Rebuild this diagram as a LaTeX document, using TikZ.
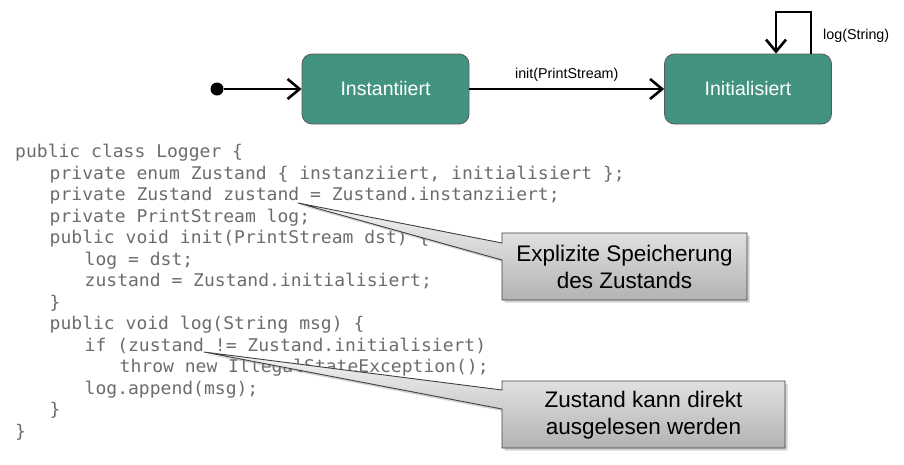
\documentclass[tikz,border=0pt]{standalone}
\usepackage{fontspec}
\setmainfont{Liberation Sans}
\newfontfamily\codefont[FakeStretch=1.03]{DejaVu Sans Mono}
\usetikzlibrary{arrows.meta,shadows,calc}
\definecolor{teal1}{RGB}{66,148,129}
\definecolor{codegray}{RGB}{108,108,108}
\tikzset{
  statebox/.style={draw=black!65, line width=0.8pt, fill=teal1, rounded corners=10pt,
    minimum width=167pt, minimum height=70pt, inner sep=0pt, text=white,
    font=\fontsize{19.5}{22}\selectfont},
  conn/.style={line width=2.6pt, -{Straight Barb[length=12pt,width=20pt]}},
  lbl/.style={font=\fontsize{14.3}{16}\selectfont, inner sep=0pt},
  codeline/.style={font=\codefont\fontsize{17.5}{20}\selectfont, text=codegray, anchor=mid west, inner sep=0pt},
  callout/.style={draw=black!75, line width=0.9pt, top color=black!4, bottom color=black!30,
    drop shadow={shadow xshift=2.5pt, shadow yshift=-2.5pt, opacity=0.35}},
  callouttext/.style={font=\fontsize{22.5}{27}\selectfont, align=center, inner sep=0pt, text=black}
}
\begin{document}
\begin{tikzpicture}[x=1pt,y=-1pt]
\useasboundingbox (0,0) rectangle (904,464);
% state diagram
\node[circle, fill=black, minimum size=13pt, inner sep=0pt] (start) at (217,89) {};
\node[statebox] (s1) at (385.5,89) {Instantiiert};
\node[statebox] (s2) at (748,89) {Initialisiert};
\draw[conn] (start) -- (s1.west);
\draw[conn] (s1.east) -- node[lbl, above=6pt] (initlbl) {init(PrintStream)} (s2.west);
\coordinate (l1) at (811,12);
\coordinate (l2) at (776,12);
\draw[conn] (s2.north -| l1) -- (l1) -- (l2) -- (s2.north -| l2);
\node[lbl, anchor=west] (loglbl) at (823,36) {log(String)};
% code
\node[codeline] (c0) at (15,155) {public class Logger \{};
\node[codeline] (c1) at (49.5,176.5) {private enum Zustand \{ instanziiert, initialisiert \};};
\node[codeline] (c2) at (49.5,198) {private Zustand zustand = Zustand.instanziiert;};
\node[codeline] (c3) at (49.5,219.5) {private PrintStream log;};
\node[codeline] (c4) at (49.5,241) {public void init(PrintStream dst) \{};
\node[codeline] (c5) at (84.5,262.5) {log = dst;};
\node[codeline] (c6) at (84.5,284) {zustand = Zustand.initialisiert;};
\node[codeline] (c7) at (49.5,305.5) {\}};
\node[codeline] (c8) at (49.5,327) {public void log(String msg) \{};
\node[codeline] (c9) at (84.5,348.5) {if (zustand != Zustand.initialisiert)};
\node[codeline] (c10) at (119.5,370) {throw new IllegalStateException();};
\node[codeline] (c11) at (84.5,391.5) {log.append(msg);};
\node[codeline] (c12) at (49.5,413) {\}};
\node[codeline] (c13) at (15,434.5) {\}};
% callout 1
\coordinate (t1) at (298,203);
\path[callout] (502,233) -- (747,233) -- (747,300) -- (502,300) -- (502,260) -- (t1) -- (502,243) -- cycle;
\node[callouttext] (k1) at (624.5,267) {Explizite Speicherung\\des Zustands};
% callout 2
\coordinate (t2) at (204,352);
\path[callout] (502,381) -- (785,381) -- (785,448) -- (502,448) -- (502,409) -- (t2) -- (502,390) -- cycle;
\node[callouttext] (k2) at (643.5,415) {Zustand kann direkt\\ausgelesen werden};
\end{tikzpicture}
\end{document}
